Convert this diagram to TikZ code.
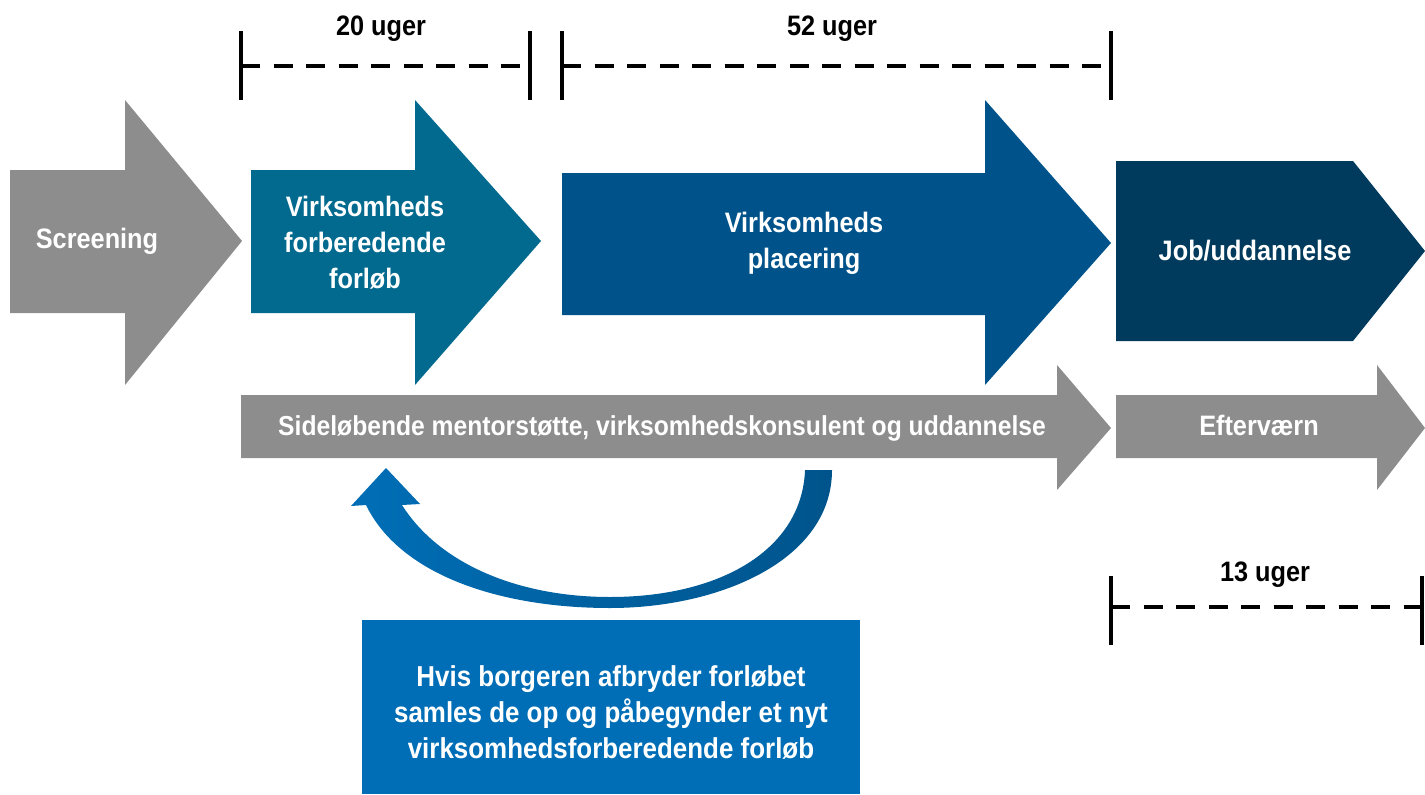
\documentclass[tikz,border=0pt]{standalone}
\usepackage{fontspec}
\setmainfont[FakeStretch=0.9]{Liberation Sans}
\usetikzlibrary{arrows}
\definecolor{graa}{RGB}{141,141,141}
\definecolor{petrol}{RGB}{3,106,143}
\definecolor{mblaa}{RGB}{0,83,138}
\definecolor{navy}{RGB}{0,58,92}
\definecolor{lblaa}{RGB}{0,110,182}
\definecolor{dblaa}{RGB}{0,84,140}
\tikzstyle{lbl}=[font=\fontsize{16}{20.5}\selectfont\bfseries, text=white, align=center, inner sep=0pt]
\tikzstyle{uger}=[font=\fontsize{16}{20}\selectfont\bfseries, text=black, inner sep=0pt]
\tikzstyle{tick}=[line width=2pt]
\tikzstyle{bar}=[line width=2.3pt, dash pattern=on 11pt off 7.5pt]

\begin{document}
\begin{tikzpicture}[x=0.02cm,y=-0.02cm]
\useasboundingbox (0,0) rectangle (1425,794);

% store pile
\fill[graa] (10,170) -- (125,170) -- (125,100) -- (242,241) -- (125,385) -- (125,313) -- (10,313) -- cycle;
\fill[petrol] (251,170) -- (415,170) -- (415,100) -- (541,241) -- (415,385) -- (415,313) -- (251,313) -- cycle;
\fill[mblaa] (562,173) -- (985,173) -- (985,100) -- (1111,243) -- (985,385) -- (985,315) -- (562,315) -- cycle;
\fill[navy] (1116,161) -- (1353,161) -- (1425,251) -- (1353,341) -- (1116,341) -- cycle;

\node[lbl] (scr) at (97,241) {Screening};
\node[lbl] (vff) at (365,243) {Virksomheds\\forberedende\\forløb};
\node[lbl] (vpl) at (804,243) {Virksomheds\\placering};
\node[lbl] (job) at (1255,251) {Job/uddannelse};

% grå pile
\fill[graa] (241,395) -- (1057,395) -- (1057,365) -- (1111,428) -- (1057,490) -- (1057,458) -- (241,458) -- cycle;
\fill[graa] (1116,395) -- (1377,395) -- (1377,365) -- (1425,428) -- (1377,490) -- (1377,458) -- (1116,458) -- cycle;
\node[lbl, font=\fontsize{15.6}{20}\selectfont\bfseries] (side) at (662,428) {Sideløbende mentorstøtte, virksomhedskonsulent og uddannelse};
\node[lbl] (efter) at (1259,425) {Efterværn};

% uger
\node[uger] (w20) at (381,29) {20 uger};
\node[uger] (w52) at (832,29) {52 uger};
\node[uger] (w13) at (1265,575) {13 uger};
\coordinate (a0) at (241,66);
\coordinate (a1) at (530,66);
\coordinate (b0) at (562,66);
\coordinate (b1) at (1111,66);
\coordinate (c0) at (1111,607);
\coordinate (c1) at (1422,607);
\draw[bar] (a0) -- (a1);
\draw[bar] (b0) -- (b1);
\draw[bar] (c0) -- (c1);
\draw[tick] (241,31) -- (241,100);
\draw[tick] (530,31) -- (530,100);
\draw[tick] (562,31) -- (562,100);
\draw[tick] (1111,31) -- (1111,100);
\draw[tick] (1111,576) -- (1111,645);
\draw[tick] (1422,576) -- (1422,645);

% tilbage pil
\shade[left color=lblaa, right color=dblaa] (832,470) .. controls (832,560) and (720,608) .. (610,608)
  .. controls (500,608) and (400,575) .. (366,505) -- (351,506) -- (386,468) -- (420,504) -- (402,505)
  .. controls (440,565) and (520,597) .. (610,597) .. controls (720,597) and (802,550) .. (805,470) -- cycle;

\fill[lblaa] (362,620) rectangle (860,794);
\node[lbl, font=\fontsize{16.4}{20.5}\selectfont\bfseries] (hvis) at (611,712) {Hvis borgeren afbryder forløbet\\samles de op og påbegynder et nyt\\virksomhedsforberedende forløb};

\end{tikzpicture}
\end{document}
